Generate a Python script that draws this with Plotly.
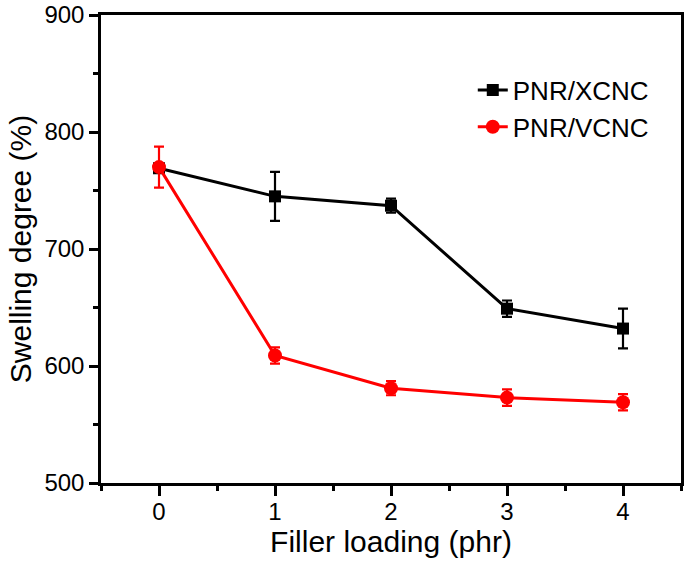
import plotly.graph_objects as go

filler = [0, 1, 2, 3, 4]
xcnc = [769, 745, 737, 649, 632]
xcnc_err = [3, 21, 6, 7, 17]
vcnc = [770, 609, 581, 573, 569]
vcnc_err = [17.5, 7, 6, 7, 7]

FONT = "Liberation Sans, Arial, sans-serif"

fig = go.Figure()
fig.add_trace(go.Scatter(
    x=filler, y=xcnc, name="PNR/XCNC", mode="lines+markers",
    line=dict(color="black", width=3),
    marker=dict(symbol="square", size=12, color="black"),
    error_y=dict(type="data", array=xcnc_err, color="black", thickness=2.2, width=5),
))
fig.add_trace(go.Scatter(
    x=filler, y=vcnc, name="PNR/VCNC", mode="lines+markers",
    line=dict(color="#ff0000", width=3),
    marker=dict(symbol="circle", size=14, color="#ff0000"),
    error_y=dict(type="data", array=vcnc_err, color="#ff0000", thickness=2.2, width=5),
))

fig.update_layout(
    width=685, height=564,
    margin=dict(l=101, r=4, t=15, b=81, autoexpand=False),
    paper_bgcolor="white", plot_bgcolor="white",
    font=dict(family=FONT, color="black", size=24),
    showlegend=True,
    legend=dict(x=0.641, y=0.89, xanchor="left", yanchor="top",
                font=dict(size=26, family=FONT), bgcolor="rgba(0,0,0,0)",
                tracegroupgap=0),
)
fig.update_xaxes(
    range=[-0.5, 4.5], tickvals=[0, 1, 2, 3, 4],
    showline=True, linecolor="black", linewidth=2.5, mirror=True,
    ticks="outside", ticklen=10, tickwidth=2.5, tickcolor="black",
    minor=dict(dtick=0.5, tick0=0, ticks="outside", ticklen=5, tickwidth=2.5, tickcolor="black"),
    showgrid=False, zeroline=False, automargin=False,
    tickfont=dict(size=24, family=FONT), ticklabelstandoff=-5,
    title=dict(text="Filler loading (phr)", font=dict(size=30, family=FONT), standoff=4),
)
fig.update_yaxes(
    range=[500, 900], tickvals=[500, 600, 700, 800, 900],
    showline=True, linecolor="black", linewidth=2.5, mirror=True,
    ticks="outside", ticklen=9, tickwidth=2.5, tickcolor="black",
    minor=dict(dtick=50, tick0=500, ticks="outside", ticklen=5, tickwidth=2.5, tickcolor="black"),
    showgrid=False, zeroline=False, automargin=False,
    tickfont=dict(size=24, family=FONT),
    title=dict(text="Swelling degree (%)", font=dict(size=30, family=FONT), standoff=4),
)

fig.write_html(
    "out.html",
    config={"displayModeBar": False},
    post_script="document.body.style.margin='0';document.body.style.overflow='hidden';",
)
